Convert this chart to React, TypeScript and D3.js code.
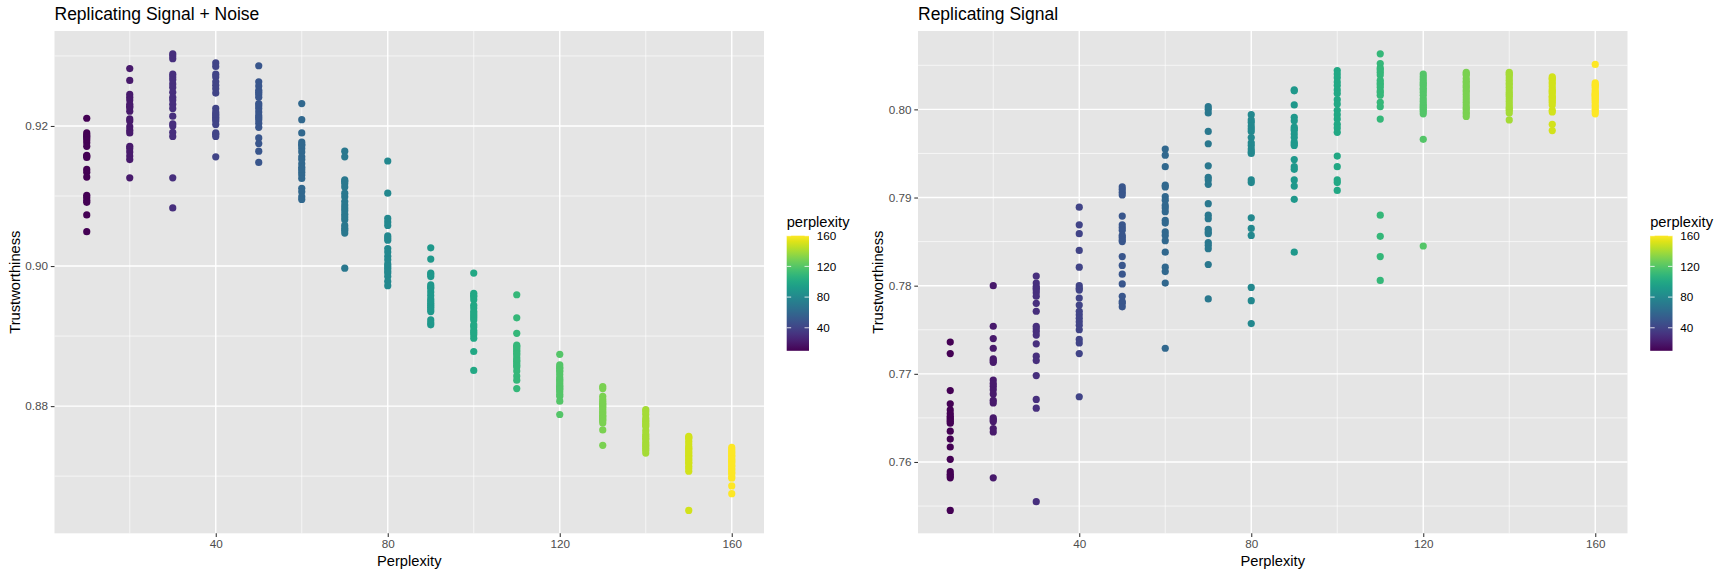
import { useEffect, useRef } from "react";
import * as d3 from "d3";

// perplexity values used on the x axis (one column of points each)
const perplexities = [10, 20, 30, 40, 50, 60, 70, 80, 90, 100, 110, 120, 130, 140, 150, 160];

// trustworthiness, "Replicating Signal + Noise", one row per perplexity
const noiseValues = [
  [0.9211, 0.919, 0.9187, 0.9185, 0.9183, 0.918, 0.9176, 0.9171, 0.9158, 0.9155, 0.9157, 0.9138, 0.9134, 0.9127, 0.9101, 0.9098, 0.9094, 0.9091, 0.9073, 0.9049],
  [0.9282, 0.9265, 0.9245, 0.9241, 0.9237, 0.9231, 0.9226, 0.9221, 0.921, 0.9207, 0.9199, 0.9194, 0.919, 0.9171, 0.9168, 0.9163, 0.9157, 0.9152, 0.9126, 0.9228],
  [0.9303, 0.93, 0.9296, 0.9274, 0.927, 0.9266, 0.926, 0.9255, 0.9248, 0.9241, 0.9237, 0.9231, 0.9225, 0.9214, 0.9203, 0.92, 0.9191, 0.9185, 0.9126, 0.9083],
  [0.929, 0.9285, 0.9274, 0.927, 0.9263, 0.9258, 0.9253, 0.9247, 0.9225, 0.922, 0.9215, 0.9212, 0.921, 0.9207, 0.9202, 0.919, 0.9188, 0.9185, 0.9156, 0.9217],
  [0.9286, 0.9263, 0.9257, 0.9251, 0.9245, 0.9241, 0.9229, 0.9225, 0.922, 0.9215, 0.9209, 0.9204, 0.9198, 0.9183, 0.9175, 0.9164, 0.9148, 0.9232, 0.9248, 0.9212],
  [0.9232, 0.9209, 0.919, 0.9177, 0.9172, 0.9168, 0.9163, 0.9156, 0.9146, 0.9141, 0.9134, 0.913, 0.9125, 0.9111, 0.9106, 0.9099, 0.9095, 0.9152, 0.9138, 0.9174],
  [0.9164, 0.9156, 0.9123, 0.9118, 0.9113, 0.9104, 0.9099, 0.9092, 0.9087, 0.9079, 0.9074, 0.9066, 0.9058, 0.9051, 0.9047, 0.8997, 0.9121, 0.9083, 0.9054, 0.907],
  [0.915, 0.9104, 0.9068, 0.9063, 0.9058, 0.9043, 0.9037, 0.9025, 0.9014, 0.9009, 0.9003, 0.8997, 0.899, 0.8985, 0.8978, 0.8972, 0.904, 0.9, 0.902, 0.8993],
  [0.9026, 0.901, 0.899, 0.8985, 0.8988, 0.8973, 0.8968, 0.8963, 0.8958, 0.8953, 0.8947, 0.8944, 0.8941, 0.8935, 0.8923, 0.8916, 0.897, 0.895, 0.8938, 0.8919],
  [0.899, 0.8961, 0.8956, 0.8952, 0.8944, 0.8935, 0.8929, 0.8923, 0.8913, 0.8908, 0.8902, 0.8897, 0.8878, 0.8851, 0.8958, 0.894, 0.8926, 0.8916, 0.8905, 0.8932],
  [0.8959, 0.8926, 0.8904, 0.8887, 0.8883, 0.8878, 0.8873, 0.8869, 0.8866, 0.8861, 0.8856, 0.885, 0.8843, 0.8837, 0.8825, 0.888, 0.8864, 0.8875, 0.8858, 0.8885],
  [0.8874, 0.8859, 0.8854, 0.8849, 0.8841, 0.8836, 0.883, 0.8826, 0.8821, 0.8814, 0.8807, 0.8788, 0.8856, 0.8845, 0.8838, 0.8833, 0.8828, 0.8824, 0.8817, 0.8851],
  [0.8828, 0.8814, 0.8807, 0.8802, 0.8795, 0.879, 0.8785, 0.8781, 0.8776, 0.8766, 0.8744, 0.8825, 0.881, 0.8804, 0.8798, 0.8792, 0.8787, 0.8783, 0.8779, 0.88],
  [0.8795, 0.8788, 0.8783, 0.8778, 0.8771, 0.8765, 0.8757, 0.8752, 0.8748, 0.8745, 0.874, 0.8733, 0.8792, 0.878, 0.8775, 0.876, 0.8754, 0.8743, 0.8737, 0.8773],
  [0.8757, 0.8754, 0.875, 0.8742, 0.8738, 0.8733, 0.8728, 0.8723, 0.8718, 0.8714, 0.8707, 0.8651, 0.8755, 0.8746, 0.874, 0.873, 0.8725, 0.872, 0.8711, 0.8735],
  [0.8741, 0.8733, 0.8728, 0.8723, 0.8719, 0.8714, 0.8709, 0.8704, 0.8697, 0.8686, 0.8675, 0.8738, 0.873, 0.8725, 0.8721, 0.8716, 0.8711, 0.8706, 0.87, 0.8735],
];

// trustworthiness, "Replicating Signal"
const signalValues = [
  [0.7736, 0.7723, 0.7681, 0.7666, 0.7659, 0.7655, 0.7652, 0.765, 0.7648, 0.7644, 0.7635, 0.7626, 0.7617, 0.7603, 0.7589, 0.7586, 0.7582, 0.7545, 0.7646, 0.7584],
  [0.78, 0.7754, 0.774, 0.7729, 0.7717, 0.7715, 0.7693, 0.7686, 0.7682, 0.7677, 0.767, 0.7667, 0.765, 0.7648, 0.7646, 0.7638, 0.7634, 0.7582, 0.7689, 0.7713],
  [0.7811, 0.7803, 0.7799, 0.7795, 0.7792, 0.7788, 0.778, 0.7771, 0.7754, 0.7748, 0.7744, 0.7734, 0.772, 0.7715, 0.7698, 0.7671, 0.7661, 0.7555, 0.7797, 0.7751],
  [0.7889, 0.7869, 0.7859, 0.784, 0.7821, 0.78, 0.7797, 0.7795, 0.7786, 0.7778, 0.7771, 0.7767, 0.7763, 0.7759, 0.7755, 0.775, 0.7739, 0.7735, 0.7723, 0.7674],
  [0.7912, 0.7909, 0.7906, 0.7903, 0.7879, 0.7869, 0.7866, 0.7863, 0.7857, 0.7855, 0.7852, 0.785, 0.7833, 0.7823, 0.7813, 0.7802, 0.7788, 0.7782, 0.778, 0.7776],
  [0.7955, 0.7948, 0.7935, 0.7914, 0.7912, 0.7901, 0.7897, 0.7891, 0.7888, 0.7884, 0.7874, 0.7871, 0.7861, 0.7857, 0.7851, 0.7838, 0.7821, 0.7816, 0.7803, 0.7729],
  [0.8003, 0.8, 0.7996, 0.7975, 0.7961, 0.7936, 0.7923, 0.792, 0.7915, 0.7893, 0.788, 0.7876, 0.7864, 0.7861, 0.7859, 0.7849, 0.7846, 0.7842, 0.7824, 0.7785],
  [0.7994, 0.7988, 0.7985, 0.7981, 0.7978, 0.7975, 0.7968, 0.7962, 0.7959, 0.7955, 0.7952, 0.795, 0.792, 0.7917, 0.7877, 0.7865, 0.7857, 0.7798, 0.7783, 0.7757],
  [0.8021, 0.8022, 0.8005, 0.7991, 0.7987, 0.798, 0.7978, 0.7976, 0.7972, 0.7968, 0.7963, 0.7961, 0.7959, 0.7943, 0.7935, 0.7932, 0.792, 0.7913, 0.7898, 0.7838],
  [0.8044, 0.804, 0.8036, 0.8031, 0.8027, 0.8022, 0.8018, 0.8011, 0.8006, 0.7999, 0.7994, 0.7989, 0.7983, 0.7979, 0.7974, 0.7947, 0.7935, 0.792, 0.7917, 0.7908],
  [0.8063, 0.8052, 0.8047, 0.8045, 0.8042, 0.8039, 0.8033, 0.803, 0.8028, 0.8025, 0.8021, 0.8019, 0.8016, 0.8008, 0.8003, 0.7989, 0.788, 0.7856, 0.7833, 0.7806],
  [0.804, 0.8037, 0.8034, 0.8031, 0.8029, 0.8027, 0.8024, 0.8022, 0.8019, 0.8016, 0.8012, 0.8009, 0.8006, 0.8004, 0.8002, 0.8, 0.7998, 0.7995, 0.7966, 0.7845],
  [0.8042, 0.804, 0.8039, 0.8035, 0.8032, 0.803, 0.8027, 0.8025, 0.8022, 0.802, 0.8017, 0.8014, 0.8011, 0.8008, 0.8005, 0.8002, 0.8, 0.7997, 0.7995, 0.7992],
  [0.8042, 0.804, 0.8039, 0.8036, 0.8033, 0.803, 0.8028, 0.8025, 0.8022, 0.8019, 0.8017, 0.8015, 0.8012, 0.8009, 0.8006, 0.8003, 0.8001, 0.7999, 0.7996, 0.7988],
  [0.8037, 0.8035, 0.8034, 0.8031, 0.8029, 0.8026, 0.8023, 0.8021, 0.802, 0.8018, 0.8015, 0.8014, 0.8012, 0.801, 0.8008, 0.8005, 0.7999, 0.7997, 0.7983, 0.7976],
  [0.8051, 0.803, 0.8028, 0.8027, 0.8025, 0.8022, 0.802, 0.8018, 0.8017, 0.8015, 0.8013, 0.8012, 0.801, 0.8008, 0.8005, 0.8003, 0.8, 0.7998, 0.7995, 0.8016],
];

const xTicks = [40, 80, 120, 160];
const noiseYTicks = [0.88, 0.9, 0.92];
const signalYTicks = [0.76, 0.77, 0.78, 0.79, 0.8];
const legendTicks = [40, 80, 120, 160];

const FONT = "'Liberation Sans', Arial, Helvetica, sans-serif";

// ggplot style minor breaks: midpoints between majors, plus one step past each end
const minorBreaks = (ticks, domain) => {
  const step = ticks[1] - ticks[0];
  const out = [];
  for (let v = ticks[0] - step / 2; v <= ticks[ticks.length - 1] + step / 2 + 1e-9; v += step) {
    if (v >= domain[0] && v <= domain[1]) out.push(v);
  }
  return out;
};

const expand = (ext) => {
  const r = ext[1] - ext[0];
  return [ext[0] - r * 0.05, ext[1] + r * 0.05];
};

const drawPanel = (svg, opts) => {
  const { left, right, top, bottom, title, values, yTicks, gradId } = opts;
  const g = svg.append("g");

  const xDomain = expand(d3.extent(perplexities));
  const x = d3.scaleLinear().domain(xDomain).range([left, right]);
  const allY = values.flat();
  const yDomain = expand(d3.extent(allY));
  const y = d3.scaleLinear().domain(yDomain).range([bottom, top]);
  const color = d3.scaleSequential(d3.interpolateViridis).domain([10, 160]);

  // panel background
  g.append("rect")
    .attr("x", left)
    .attr("y", top)
    .attr("width", right - left)
    .attr("height", bottom - top)
    .attr("fill", "#E5E5E5");

  // minor grid
  g.selectAll(".ymin")
    .data(minorBreaks(yTicks, yDomain))
    .join("line")
    .attr("x1", left)
    .attr("x2", right)
    .attr("y1", (d) => y(d))
    .attr("y2", (d) => y(d))
    .attr("stroke", "#fff")
    .attr("stroke-opacity", 0.85)
    .attr("stroke-width", 0.75);
  g.selectAll(".xmin")
    .data(minorBreaks(xTicks, xDomain))
    .join("line")
    .attr("y1", top)
    .attr("y2", bottom)
    .attr("x1", (d) => x(d))
    .attr("x2", (d) => x(d))
    .attr("stroke", "#fff")
    .attr("stroke-opacity", 0.85)
    .attr("stroke-width", 0.75);

  // major grid
  g.append("g")
    .selectAll("line")
    .data(yTicks)
    .join("line")
    .attr("x1", left)
    .attr("x2", right)
    .attr("y1", (d) => y(d))
    .attr("y2", (d) => y(d))
    .attr("stroke", "#fff")
    .attr("stroke-width", 1.4);
  g.append("g")
    .selectAll("line")
    .data(xTicks)
    .join("line")
    .attr("y1", top)
    .attr("y2", bottom)
    .attr("x1", (d) => x(d))
    .attr("x2", (d) => x(d))
    .attr("stroke", "#fff")
    .attr("stroke-width", 1.4);

  // points
  const pts = [];
  perplexities.forEach((p, i) => values[i].forEach((v) => pts.push({ p, v })));
  g.append("g")
    .selectAll("circle")
    .data(pts)
    .join("circle")
    .attr("cx", (d) => x(d.p))
    .attr("cy", (d) => y(d.v))
    .attr("r", 3.6)
    .attr("fill", (d) => color(d.p));

  // y axis
  const yAxis = g
    .append("g")
    .attr("transform", `translate(${left},0)`)
    .call(d3.axisLeft(y).tickValues(yTicks).tickFormat(d3.format(".2f")).tickSize(3.7).tickPadding(2.9));
  yAxis.select(".domain").remove();
  yAxis.selectAll("line").attr("stroke", "#333333").attr("stroke-width", 1.07);
  yAxis.selectAll("text").attr("fill", "#4D4D4D").style("font-size", "11.7px").style("font-family", FONT);

  // x axis
  const xAxis = g
    .append("g")
    .attr("transform", `translate(0,${bottom})`)
    .call(d3.axisBottom(x).tickValues(xTicks).tickSize(3.7).tickPadding(2.9));
  xAxis.select(".domain").remove();
  xAxis.selectAll("line").attr("stroke", "#333333").attr("stroke-width", 1.07);
  xAxis.selectAll("text").attr("fill", "#4D4D4D").style("font-size", "11.7px").style("font-family", FONT);

  // titles
  g.append("text")
    .attr("x", left)
    .attr("y", 20)
    .text(title)
    .style("font-size", "17.5px")
    .style("font-family", FONT)
    .attr("fill", "#000");
  g.append("text")
    .attr("x", (left + right) / 2)
    .attr("y", 566)
    .attr("text-anchor", "middle")
    .text("Perplexity")
    .style("font-size", "14.7px")
    .style("font-family", FONT);
  g.append("text")
    .attr("transform", `translate(${left - 34.7},${(top + bottom) / 2}) rotate(-90)`)
    .attr("text-anchor", "middle")
    .text("Trustworthiness")
    .style("font-size", "14.7px")
    .style("font-family", FONT);

  // colourbar legend
  const lx = right + 22.7;
  const barW = 22.3;
  const ly = d3.scaleLinear().domain([10, 160]).range([350.8, 235.7]);
  const grad = svg
    .append("defs")
    .append("linearGradient")
    .attr("id", gradId)
    .attr("x1", 0)
    .attr("y1", 1)
    .attr("x2", 0)
    .attr("y2", 0);
  d3.range(0, 1.0001, 0.05).forEach((t) => {
    grad.append("stop").attr("offset", t).attr("stop-color", d3.interpolateViridis(t));
  });
  g.append("text")
    .attr("x", lx)
    .attr("y", 226.7)
    .text("perplexity")
    .style("font-size", "14.7px")
    .style("font-family", FONT);
  g.append("rect")
    .attr("x", lx)
    .attr("y", ly(160))
    .attr("width", barW)
    .attr("height", ly(10) - ly(160))
    .attr("fill", `url(#${gradId})`);
  const lt = g.append("g").selectAll("g").data(legendTicks).join("g");
  lt.append("line")
    .attr("x1", lx)
    .attr("x2", lx + barW / 5)
    .attr("y1", (d) => ly(d))
    .attr("y2", (d) => ly(d))
    .attr("stroke", "#fff")
    .attr("stroke-opacity", 0.8);
  lt.append("line")
    .attr("x1", lx + barW - barW / 5)
    .attr("x2", lx + barW)
    .attr("y1", (d) => ly(d))
    .attr("y2", (d) => ly(d))
    .attr("stroke", "#fff")
    .attr("stroke-opacity", 0.8);
  lt.append("text")
    .attr("x", lx + barW + 7.7)
    .attr("y", (d) => ly(d))
    .attr("dy", "0.36em")
    .text((d) => d)
    .style("font-size", "11.7px")
    .style("font-family", FONT);
};

const App = () => {
  const svgRef = useRef(null);

  useEffect(() => {
    if (!svgRef.current) return;
    const svg = d3.select(svgRef.current);
    svg.selectAll("*").remove();

    drawPanel(svg, {
      left: 54.5,
      right: 764,
      top: 31,
      bottom: 533.3,
      title: "Replicating Signal + Noise",
      values: noiseValues,
      yTicks: noiseYTicks,
      gradId: "vir1",
    });
    drawPanel(svg, {
      left: 918,
      right: 1627.5,
      top: 31,
      bottom: 533.3,
      title: "Replicating Signal",
      values: signalValues,
      yTicks: signalYTicks,
      gradId: "vir2",
    });
  }, []);

  return (
    <svg
      ref={svgRef}
      width={1728}
      height={576}
      style={{ position: "absolute", left: 0, top: 0, background: "#fff" }}
    ></svg>
  );
};

export default App;
